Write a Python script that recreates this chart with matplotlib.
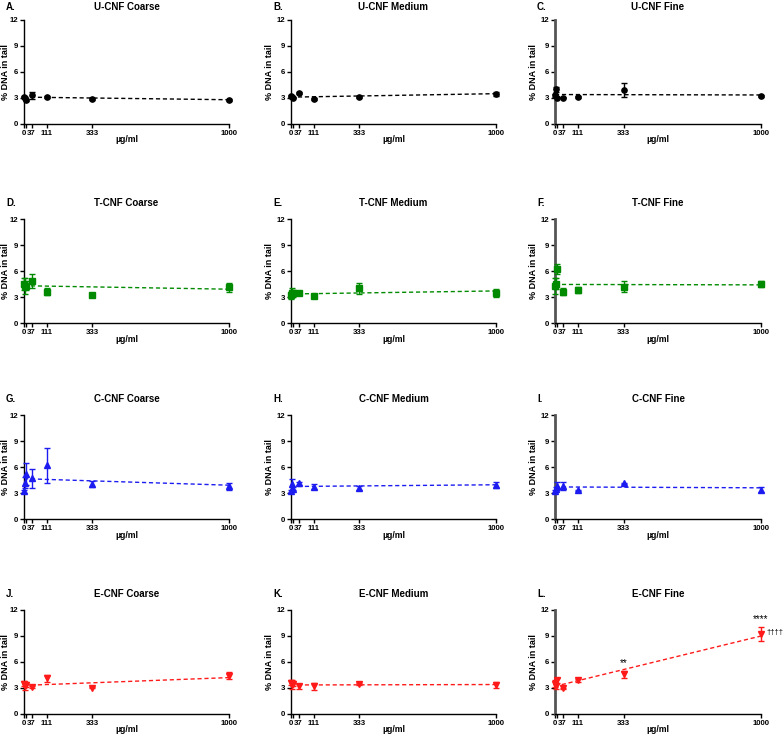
import matplotlib
matplotlib.use('Agg')
from matplotlib import pyplot as plt

plt.rcParams['font.family'] = ['Liberation Sans', 'DejaVu Sans']

doses = [0, 4, 12, 37, 111, 333, 1000]
x_ticks = [0, 37, 111, 333, 1000]
y_ticks = [0, 3, 6, 9, 12]
materials = ['U-CNF', 'T-CNF', 'C-CNF', 'E-CNF']
sizes = ['Coarse', 'Medium', 'Fine']
letters = 'ABCDEFGHIJKL'
colors = ['black', '#008a00', '#1c1cf0', '#ff1a1a']
markers = ['o', 's', '^', 'v']

# % DNA in tail, mean per dose (Coarse, Medium, Fine)
u_mean = [[3.1, 2.95, 2.8, 3.3, 3.1, 2.85, 2.8],
          [3.2, 3.1, 3.05, 3.55, 2.9, 3.15, 3.5],
          [3.3, 4.0, 3.05, 3.05, 3.1, 3.9, 3.2]]
u_err = [[0.15, 0.1, 0.1, 0.45, 0.1, 0.1, 0.1],
         [0.1, 0.1, 0.1, 0.1, 0.1, 0.1, 0.25],
         [0.2, 0.25, 0.1, 0.1, 0.1, 0.8, 0.1]]
u_fit = [[3.1, 2.8], [3.1, 3.5], [3.4, 3.35]]

t_mean = [[4.55, 4.25, 4.3, 4.85, 3.6, 3.2, 4.1],
          [3.2, 3.5, 3.45, 3.45, 3.1, 4.0, 3.5],
          [4.3, 4.55, 6.2, 3.6, 3.8, 4.2, 4.5]]
t_err = [[0.7, 0.9, 0.5, 0.8, 0.4, 0.1, 0.5],
         [0.4, 0.5, 0.4, 0.2, 0.15, 0.6, 0.45],
         [0.9, 0.6, 0.6, 0.4, 0.35, 0.6, 0.4]]
t_fit = [[4.3, 3.9], [3.35, 3.7], [4.45, 4.4]]

c_mean = [[3.2, 4.2, 5.2, 4.7, 6.2, 4.05, 3.8],
          [3.2, 4.0, 3.5, 4.1, 3.75, 3.6, 3.9],
          [3.2, 3.5, 3.8, 3.8, 3.3, 4.1, 3.4]]
c_err = [[0.2, 0.6, 1.3, 1.1, 2.0, 0.3, 0.4],
         [0.1, 0.6, 0.2, 0.15, 0.25, 0.25, 0.35],
         [0.1, 0.2, 0.5, 0.5, 0.1, 0.1, 0.3]]
c_fit = [[4.65, 3.9], [3.75, 3.95], [3.7, 3.6]]

e_mean = [[3.5, 3.2, 3.4, 3.1, 4.1, 3.05, 4.4],
          [3.6, 3.4, 3.5, 3.2, 3.2, 3.5, 3.35],
          [3.5, 3.2, 3.9, 2.95, 3.9, 4.6, 9.2]]
e_err = [[0.3, 0.4, 0.3, 0.1, 0.4, 0.1, 0.4],
         [0.3, 0.5, 0.3, 0.3, 0.4, 0.1, 0.3],
         [0.4, 0.3, 0.3, 0.1, 0.15, 0.4, 0.8]]
e_fit = [[3.3, 4.2], [3.35, 3.4], [3.2, 9.0]]

means = [u_mean, t_mean, c_mean, e_mean]
errs = [u_err, t_err, c_err, e_err]
fits = [u_fit, t_fit, c_fit, e_fit]

W, H = 784, 742
col_left = [24, 291, 555]
col_right = [229, 496, 761]
row_top = [20, 219, 415, 610]
row_bottom = [124, 323, 519, 714]
title_y = [7, 203, 399, 594]
ylab_off = [18, 22, 22]

fig = plt.figure(figsize=(W / 100, H / 100), dpi=100)

for r in range(4):
    for c in range(3):
        l, rt = col_left[c], col_right[c]
        t, b = row_top[r], row_bottom[r]
        ax = fig.add_axes([l / W, 1 - b / H, (rt - l) / W, (b - t) / H])
        col = colors[r]
        ax.errorbar(doses, means[r][c], yerr=errs[r][c], fmt=markers[r], color=col,
                    ms=3.8, elinewidth=1, capsize=2, capthick=1, clip_on=False, zorder=3)
        ax.plot([doses[0], doses[-1]], fits[r][c], ls=(0, (3, 2)), color=col, lw=1)
        ax.set_xlim(0, 1000)
        ax.set_ylim(0, 12)
        ax.set_xticks(x_ticks)
        ax.set_xticks([12], minor=True)
        ax.set_yticks(y_ticks)
        ax.tick_params(axis='both', which='both', length=3, width=1, pad=1.5, labelsize=5.6)
        for lab in ax.get_xticklabels() + ax.get_yticklabels():
            lab.set_fontweight('bold')
        ax.spines['top'].set_visible(False)
        ax.spines['right'].set_visible(False)
        if c == 2:
            ax.spines['left'].set_linewidth(2)
            ax.spines['left'].set_color('#555555')
        else:
            ax.spines['left'].set_linewidth(1)
        ax.spines['bottom'].set_linewidth(1)

        cx = (l + rt) / 2
        fig.text(cx / W, 1 - title_y[r] / H, materials[r] + ' ' + sizes[c],
                 ha='center', va='center', fontsize=7, fontweight='bold')
        fig.text((l - 18) / W, 1 - title_y[r] / H, letters[r * 3 + c] + '.',
                 ha='left', va='center', fontsize=7, fontweight='bold')
        fig.text((l - ylab_off[c]) / W, 1 - (t + b) / 2 / H, '% DNA in tail',
                 ha='center', va='center', rotation=90, fontsize=6.5, fontweight='bold')
        fig.text(cx / W, 1 - (b + 16) / H, 'µg/ml',
                 ha='center', va='center', fontsize=6.3, fontweight='bold')

        if r == 3 and c == 2:
            ax.annotate('**', (333, 4.6 + 0.4), xytext=(0, 2), textcoords='offset points',
                        ha='center', va='bottom', fontsize=7)
            ax.annotate('****', (1000, 9.2 + 0.8), xytext=(0, 2), textcoords='offset points',
                        ha='center', va='bottom', fontsize=7, annotation_clip=False)
            ax.annotate('††††', (1000, 9.4), xytext=(4, 0), textcoords='offset points',
                        ha='left', va='center', fontsize=5.5, annotation_clip=False)

fig.savefig('out.png', dpi=100)
